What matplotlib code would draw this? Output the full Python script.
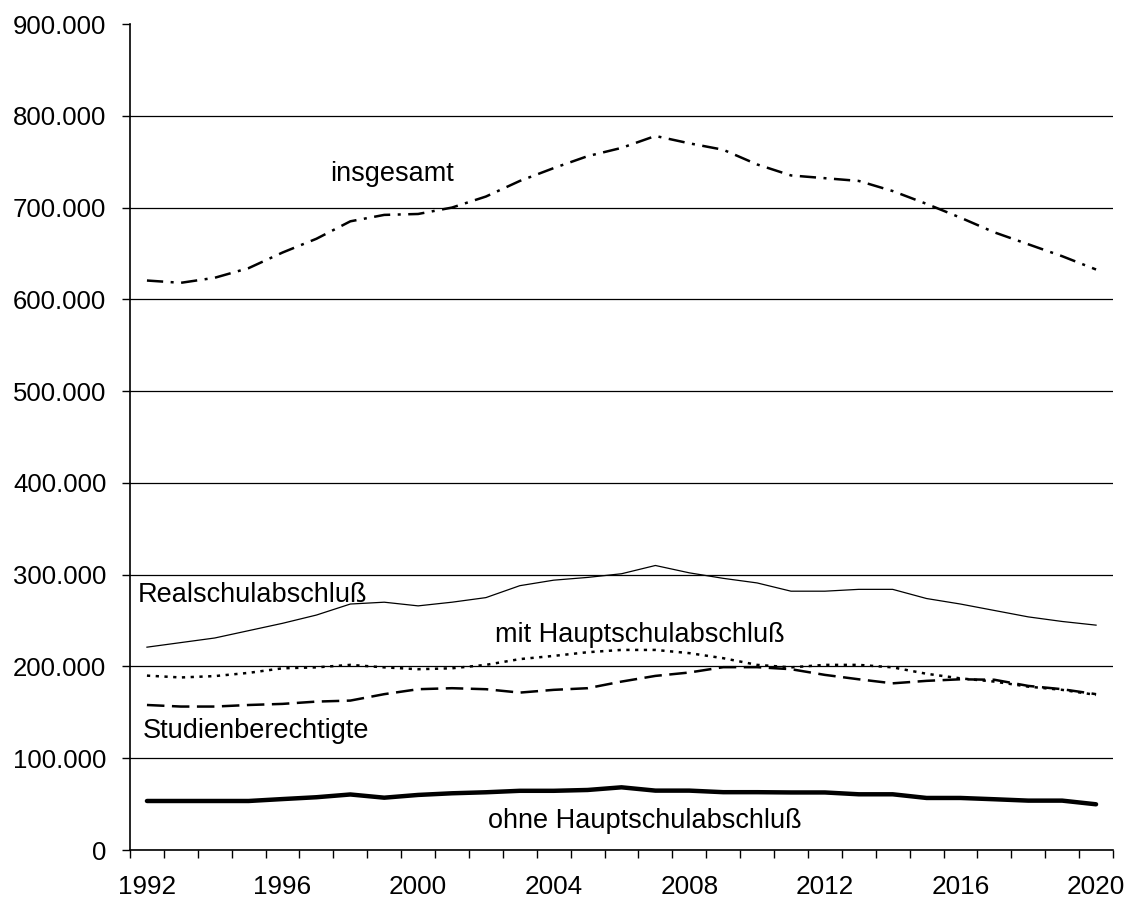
import numpy as np
import matplotlib
matplotlib.use('Agg')
import matplotlib.pyplot as plt
from matplotlib.ticker import FuncFormatter

plt.rcParams['font.family'] = ['Liberation Sans', 'DejaVu Sans']

years = list(range(1992, 2021))
insgesamt = [620500, 618000, 623500, 634000, 651000, 666000, 685000, 692000, 693000, 700000,
             712000, 729000, 743000, 756000, 765000, 778000, 770000, 763000, 747000, 735000,
             732000, 729000, 718000, 704000, 689000, 673000, 660000, 647000, 632500]
realschul = [221000, 226000, 231000, 239000, 247000, 256000, 268000, 270000, 266000, 270000,
             275000, 288000, 294000, 297000, 301000, 310000, 302000, 296000, 291000, 282000,
             282000, 284000, 284000, 274000, 268000, 261000, 254000, 249000, 245000]
mit_haupt = [190000, 188000, 189500, 193000, 198000, 199000, 201700, 199000, 197000, 198000,
             201700, 208000, 211500, 215500, 218000, 218000, 214500, 209000, 201700, 199000,
             201700, 201700, 199000, 192000, 187000, 183500, 178000, 174500, 169000]
studien = [158000, 156300, 156300, 158000, 159200, 161700, 162800, 169800, 175200, 176300,
           175200, 171500, 174500, 176300, 183500, 189700, 193400, 199200, 199200, 197000,
           190800, 186000, 181600, 184300, 186000, 185500, 178800, 175200, 169800]
ohne = [53400, 53400, 53400, 53400, 55500, 57500, 60500, 57000, 60000, 61800,
        62900, 64500, 64500, 65400, 68300, 64700, 64700, 63000, 63000, 62700,
        62700, 60700, 60700, 56700, 56700, 55300, 53800, 53800, 49800]

x = np.arange(len(years))

fig = plt.figure(figsize=(11.33, 9), dpi=100)
ax = fig.add_axes([130 / 1133, 50 / 900, 983 / 1133, 826 / 900])

ax.plot(x, insgesamt, color='black', lw=1.8, dashes=(6.5, 3, 1.2, 3), zorder=3)
ax.plot(x, realschul, color='black', lw=0.9, zorder=3)
ax.plot(x, mit_haupt, color='black', lw=1.8, dashes=(1.3, 2.2), zorder=3)
ax.plot(x, studien, color='black', lw=1.8, dashes=(7, 3), zorder=3)
ax.plot(x, ohne, color='black', lw=3.2, solid_capstyle='round', zorder=3)

fs = 19.5
ax.text(7.22, 729000, 'insgesamt', ha='center', va='baseline', fontsize=fs)
ax.text(-0.26, 270000, 'Realschulabschluß', ha='left', va='baseline', fontsize=fs)
ax.text(10.27, 226600, 'mit Hauptschulabschluß', ha='left', va='baseline', fontsize=fs)
ax.text(-0.11, 121900, 'Studienberechtigte', ha='left', va='baseline', fontsize=fs)
ax.text(10.07, 23700, 'ohne Hauptschulabschluß', ha='left', va='baseline', fontsize=fs)

ax.set_xlim(-0.5, len(years) - 0.5)
ax.set_ylim(0, 900000)

ax.set_xticks(x[::4])
ax.set_xticklabels([str(y) for y in years[::4]])
ax.set_xticks(np.arange(-0.5, len(years), 1), minor=True)
ax.tick_params(axis='x', which='major', length=0, pad=18, labelsize=18.8)
ax.tick_params(axis='x', which='minor', length=6, width=1, direction='out')

ax.set_yticks(range(0, 900001, 100000))
ax.yaxis.set_major_formatter(FuncFormatter(lambda v, p: f'{v:,.0f}'.replace(',', '.')))
ax.tick_params(axis='y', length=6, width=1, pad=11, labelsize=18.5)

ax.grid(axis='y', color='black', lw=0.9)
ax.get_ygridlines()[-1].set_visible(False)
ax.set_axisbelow(True)

for s in ['top', 'right']:
    ax.spines[s].set_visible(False)
for s in ['left', 'bottom']:
    ax.spines[s].set_linewidth(1.2)

fig.savefig('out.png', dpi=100)
